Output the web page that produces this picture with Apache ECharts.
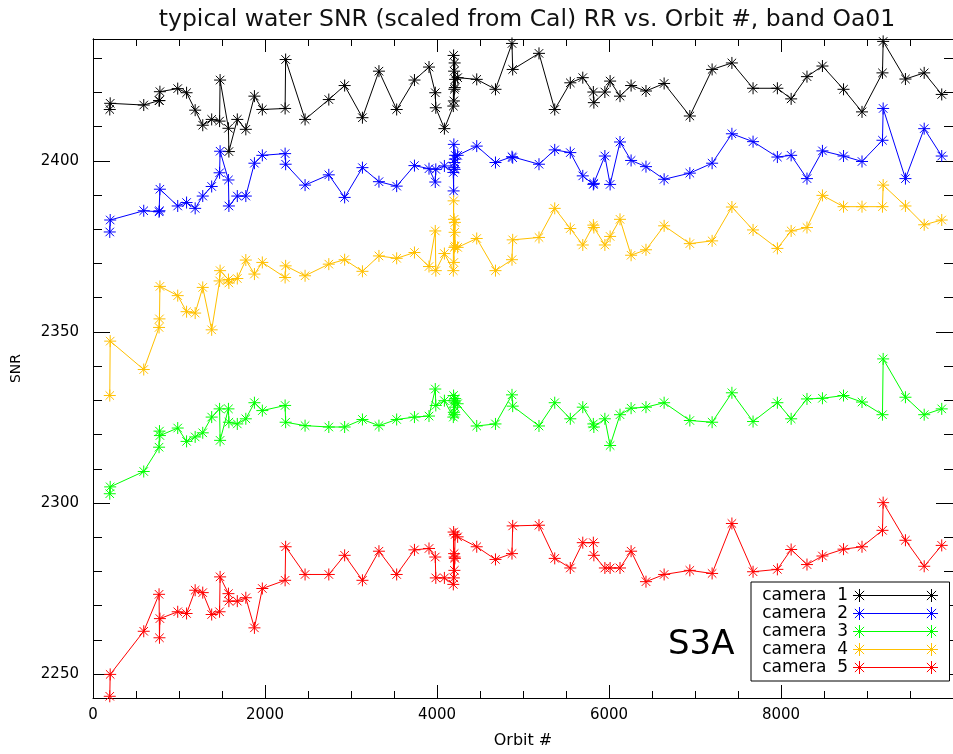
<!DOCTYPE html>
<html><head><meta charset="utf-8">
<script src="https://cdn.jsdelivr.net/npm/echarts@6/dist/echarts.min.js"></script>
<style>html,body{margin:0;padding:0;background:#fff}#c{width:953px;height:754px}</style>
</head><body><div id="c"></div><script>
// ---- data ----
const orbits = [195,200,590,768,773,778,985,1088,1188,1276,1380,1472,1478,1575,1580,1678,1777,1877,1969,2234,2240,2466,2742,2926,3133,3325,3531,3738,3907,3980,3986,4086,4190,4193,4196,4199,4202,4205,4208,4211,4240,4462,4680,4872,4880,5186,5369,5550,5695,5818,5824,5952,6013,6128,6257,6430,6641,6940,7199,7429,7675,7958,8118,8302,8482,8727,8942,9180,9188,9447,9665,9869];
const camera1 = [2415.0,2416.8,2416.3,2417.6,2417.6,2420.2,2421.1,2419.9,2414.8,2410.4,2412.1,2411.6,2423.6,2409.5,2402.7,2412.1,2409.2,2418.9,2415.0,2415.3,2429.6,2412.1,2417.9,2422.0,2412.6,2426.2,2415.0,2423.6,2427.4,2419.9,2415.5,2409.4,2416.0,2430.8,2417.5,2426.2,2420.9,2428.6,2421.4,2423.8,2424.3,2423.8,2420.9,2434.3,2426.7,2431.4,2415.0,2422.8,2424.3,2420.1,2417.0,2420.1,2423.3,2418.9,2422.0,2420.4,2422.6,2413.1,2426.7,2428.6,2421.2,2421.2,2418.1,2424.6,2427.7,2420.9,2414.3,2425.7,2434.9,2423.9,2425.7,2419.4];
const camera2 = [2379.2,2382.7,2385.4,2385.1,2385.4,2391.7,2386.8,2387.8,2386.1,2389.7,2392.5,2396.5,2402.8,2394.4,2386.8,2389.7,2389.7,2399.3,2401.6,2402.1,2399.0,2392.9,2395.9,2389.3,2398.0,2393.9,2392.6,2398.6,2397.7,2393.8,2397.5,2398.5,2396.6,2391.2,2404.8,2398.0,2399.5,2397.5,2400.5,2401.6,2401.6,2404.3,2399.5,2401.2,2400.9,2399.0,2403.2,2402.4,2395.6,2393.1,2393.4,2401.4,2393.1,2405.5,2400.1,2398.3,2394.6,2396.4,2399.3,2407.9,2405.6,2401.1,2401.6,2394.8,2402.9,2401.4,2399.8,2406.0,2415.3,2394.8,2409.4,2401.4];
const camera3 = [2302.7,2304.7,2309.2,2316.3,2321.0,2319.7,2321.9,2318.0,2319.3,2320.5,2325.1,2327.5,2318.3,2327.5,2323.6,2323.1,2324.6,2329.3,2327.0,2328.5,2323.6,2322.6,2322.2,2322.2,2324.4,2322.6,2324.4,2325.1,2325.4,2333.3,2328.5,2329.9,2325.1,2331.4,2326.5,2330.0,2325.8,2329.5,2328.0,2330.5,2329.0,2322.5,2323.1,2331.6,2328.3,2322.5,2329.3,2324.6,2328.0,2323.1,2322.2,2324.6,2316.8,2325.8,2327.7,2328.0,2329.3,2324.1,2323.6,2332.2,2323.8,2329.3,2324.6,2330.4,2330.6,2331.4,2329.5,2325.8,2342.1,2330.9,2325.8,2327.5];
const camera4 = [2331.4,2347.3,2339.0,2351.3,2353.8,2363.3,2360.6,2355.9,2355.5,2363.0,2350.6,2364.9,2367.9,2365.3,2364.3,2365.6,2371.0,2366.9,2370.3,2365.9,2369.3,2366.4,2369.8,2371.1,2367.7,2372.2,2371.5,2373.2,2369.1,2379.5,2367.9,2372.9,2367.9,2388.3,2370.3,2382.9,2374.7,2379.1,2382.0,2375.1,2374.7,2377.3,2367.9,2371.1,2376.9,2377.6,2386.1,2380.2,2375.4,2381.2,2380.5,2375.4,2377.9,2382.9,2372.4,2374.0,2381.0,2375.8,2376.6,2386.5,2379.8,2374.4,2379.5,2380.5,2389.9,2386.6,2386.6,2386.6,2392.9,2386.8,2381.3,2382.7];
const camera5 = [2243.5,2249.9,2262.5,2273.3,2260.6,2266.2,2268.2,2267.7,2274.5,2273.8,2267.4,2268.2,2278.4,2273.5,2271.3,2271.3,2272.3,2263.5,2275.0,2277.4,2287.2,2279.1,2279.1,2284.7,2277.4,2285.9,2279.1,2286.3,2286.7,2284.2,2278.1,2278.1,2276.2,2291.5,2278.1,2285.2,2280.3,2284.2,2283.8,2290.8,2290.1,2287.2,2283.5,2285.2,2293.3,2293.5,2283.8,2281.0,2288.4,2288.4,2284.7,2281.0,2281.0,2281.0,2285.9,2277.0,2279.1,2280.3,2279.4,2294.0,2279.9,2280.6,2286.4,2282.0,2284.5,2286.5,2287.2,2292.0,2300.1,2289.1,2281.5,2287.6];
const seriesNames = ['camera  1','camera  2','camera  3','camera  4','camera  5'];
const yMajorTicks = [2250,2300,2350,2400];
const yMinorTicks = [2260,2270,2280,2290,2310,2320,2330,2340,2360,2370,2380,2390,2410,2420,2430];
const xRange = [0, 10000];
const yRange = [2243, 2435.6];
const titleText = 'typical water SNR (scaled from Cal) RR vs. Orbit #, band Oa01';
const xName = 'Orbit #';
const yName = 'SNR';
const tagText = 'S3A';

// ---- styles ----
const colors = ['#000000','#0000ff','#00ff00','#ffc000','#ff0000'];
const FONT = 'DejaVu Sans';
const starPath = 'path://M0 50L100 50M50 0L50 100M14.6 14.6L85.4 85.4M85.4 14.6L14.6 85.4';
const legendPath = 'path://M0 6.5L85 6.5M6.5 0L6.5 13M1.9 1.9L11.1 11.1M11.1 1.9L1.9 11.1M78.5 0L78.5 13M73.9 1.9L83.1 11.1M83.1 1.9L73.9 11.1';
const camData = [camera1, camera2, camera3, camera4, camera5];

const chart = echarts.init(document.getElementById('c'), null, {renderer: 'canvas'});
const plain = v => String(v);

const axisLineStyle = {show: true, lineStyle: {color: '#000', width: 1}};
function yAx(pos, ticks, len, labels) {
  return {
    type: 'value', position: pos, min: yRange[0], max: yRange[1],
    axisLine: axisLineStyle,
    axisTick: {show: true, inside: true, length: len, customValues: ticks, lineStyle: {color: '#000', width: 1}},
    axisLabel: labels ? {show: true, customValues: ticks, formatter: plain, color: '#000', fontFamily: FONT, fontSize: 15, margin: 14} : {show: false},
    splitLine: {show: false},
    name: labels ? yName : '', nameLocation: 'middle', nameGap: 70, nameRotate: 90,
    nameTextStyle: {color: '#000', fontFamily: FONT, fontSize: 14}
  };
}
function xAx(pos, labels) {
  return {
    type: 'value', position: pos, min: xRange[0], max: xRange[1], interval: 2000,
    axisLine: Object.assign({onZero: false}, axisLineStyle),
    axisTick: {show: true, inside: true, length: 13, lineStyle: {color: '#000', width: 1}},
    minorTick: {show: true, splitNumber: 4, length: 7, lineStyle: {color: '#000', width: 1}},
    axisLabel: labels ? {show: true, formatter: plain, color: '#000', fontFamily: FONT, fontSize: 15, margin: 10, showMaxLabel: false} : {show: false},
    splitLine: {show: false}, minorSplitLine: {show: false},
    name: labels ? xName : '', nameLocation: 'middle', nameGap: 35,
    nameTextStyle: {color: '#000', fontFamily: FONT, fontSize: 16}
  };
}

const option = {
  animation: false,
  backgroundColor: '#fff',
  title: {text: titleText, left: 522, top: 3, textAlign: 'center',
    textStyle: {color: '#111', fontFamily: FONT, fontSize: 23.5, fontWeight: 'normal'}},
  grid: {left: 93, top: 39, width: 870, height: 661, containLabel: false},
  xAxis: [xAx('bottom', true), xAx('top', false)],
  yAxis: [yAx('left', yMajorTicks, 17, true), yAx('left', yMinorTicks, 9, false),
          yAx('right', yMajorTicks, 17, false), yAx('right', yMinorTicks, 9, false)],
  legend: {
    orient: 'vertical', left: 751, top: 582, align: 'right',
    padding: [5, 11, 5, 6], itemGap: 1, itemWidth: 85, itemHeight: 13,
    backgroundColor: '#fff', borderColor: '#000', borderWidth: 1, borderRadius: 0,
    selectedMode: false,
    itemStyle: {borderWidth: 1},
    textStyle: {color: '#000', fontFamily: FONT, fontSize: 17, lineHeight: 17, width: 91},
    data: seriesNames.map(n => ({name: n, icon: legendPath}))
  },
  graphic: [{type: 'text', left: 668, top: 628, z: 100,
    style: {text: tagText, fill: '#000', font: '34px "DejaVu Sans"'}}],
  series: camData.map((d, k) => ({
    name: seriesNames[k], type: 'line', xAxisIndex: 0, yAxisIndex: 0,
    data: orbits.map((o, i) => [o, d[i]]),
    symbol: starPath, symbolSize: 12, showAllSymbol: true,
    lineStyle: {color: colors[k], width: 1},
    itemStyle: {color: colors[k], borderColor: colors[k], borderWidth: 1},
    emphasis: {disabled: true}
  }))
};
chart.setOption(option);
</script></body></html>
